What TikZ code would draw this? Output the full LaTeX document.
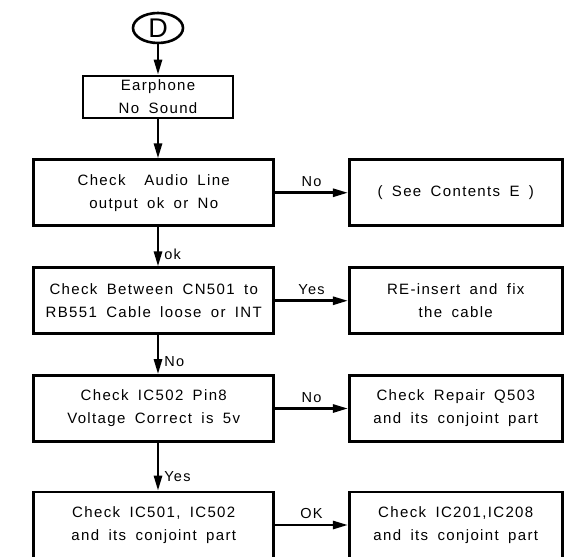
\documentclass[tikz,border=0pt]{standalone}
\usepackage{fontspec}
\setmainfont{Liberation Sans}[LetterSpace=9,WordSpace=1.7]
\newfontfamily\ovalfont{Liberation Sans}
\usetikzlibrary{arrows.meta,shapes.geometric}
\begin{document}
\begin{tikzpicture}[x=1pt,y=-1pt,
  box/.style={draw, line width=2.6pt, minimum width=240pt, minimum height=66pt,
    inner sep=0pt, align=center, font=\fontsize{15}{23}\selectfont},
  rbox/.style={box, minimum width=213pt},
  oval/.style={draw, ellipse, line width=2.6pt, minimum width=50pt, minimum height=30pt,
    inner sep=0pt, font=\ovalfont\fontsize{27}{27}\selectfont},
  arr/.style={line width=2.6pt, -{Triangle[length=15pt,width=8pt]}},
  lbl/.style={font=\fontsize{14.5}{14.5}\selectfont, inner sep=1pt}]
\useasboundingbox (0,0) rectangle (564,556);
\clip (0,0) rectangle (564,556);

\node[oval] (D) at (158,28) {D};
\node[box, minimum width=150pt, minimum height=42pt] (e) at (158,97) {Earphone\\No Sound};

\node[box] (b2) at (153.75,192.75) {Check\ \ Audio Line\\output ok or No};
\node[rbox] (r2) at (455.75,192.75) {( See Contents E )};

\node[box] (b3) at (153.75,300.75) {Check Between CN501 to\\RB551 Cable loose or INT};
\node[rbox] (r3) at (455.75,300.75) {RE-insert and fix\\the cable};

\node[box] (b4) at (153.75,408.5) {Check IC502 Pin8\\Voltage Correct is 5v};
\node[rbox] (r4) at (455.75,408.5) {Check Repair Q503\\and its conjoint part};

\node[box] (b5) at (153.75,525) {Check IC501, IC502\\and its conjoint part};
\node[rbox] (r5) at (455.75,525) {Check IC201,IC208\\and its conjoint part};

\draw[arr] (D.south) -- (e.north);
\draw[arr] (e.south) -- (b2.north -| e.south);
\draw[arr] (b2.south -| e.south) -- (b3.north -| e.south)
  node[lbl, pos=0.68, right=4pt] {ok};
\draw[arr] (b3.south -| e.south) -- (b4.north -| e.south)
  node[lbl, pos=0.68, right=4pt] {No};
\draw[arr] (b4.south -| e.south) -- (b5.north -| e.south)
  node[lbl, pos=0.7, right=4pt] {Yes};

\draw[arr] (b2) -- (r2) node[lbl, midway, above=4pt] {No};
\draw[arr] (b3) -- (r3) node[lbl, midway, above=4pt] {Yes};
\draw[arr] (b4) -- (r4) node[lbl, midway, above=4pt] {No};
\draw[arr] (b5) -- (r5) node[lbl, midway, above=4pt] {OK};
\end{tikzpicture}
\end{document}
